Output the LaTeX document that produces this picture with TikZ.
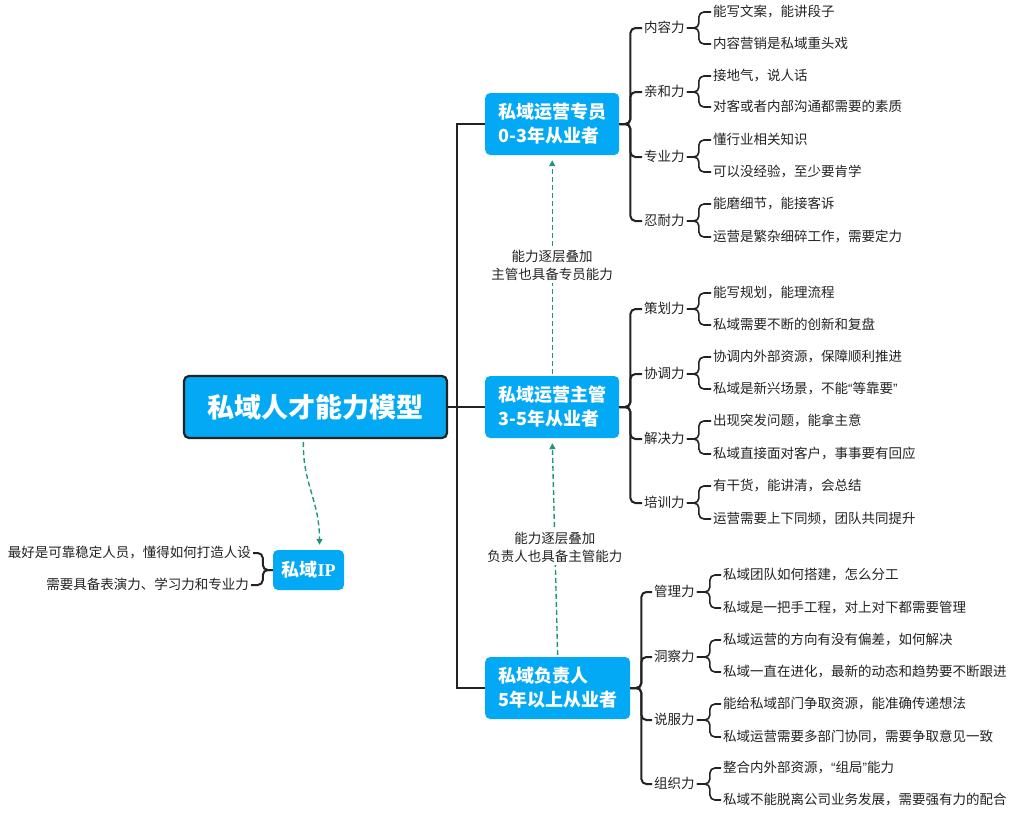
\documentclass[tikz,border=0pt]{standalone}
\usepackage{fontspec}
\setmainfont{Noto Sans CJK SC}
\newfontfamily\ipfont{Liberation Serif}
\newfontfamily\qtfont{Liberation Sans}
\newcommand{\myqopen}{{\qtfont “}}
\newcommand{\myqclose}{{\qtfont ”}}
\usetikzlibrary{arrows.meta}
\definecolor{boxblue}{RGB}{3,169,244}
\definecolor{linkteal}{RGB}{30,150,125}
\definecolor{ink}{RGB}{34,34,34}
\tikzset{
 rootbox/.style={draw=ink, line width=2.2pt, fill=boxblue, rounded corners=5pt, text=white, font=\fontsize{27}{32}\selectfont\bfseries, minimum width=263pt, minimum height=62pt, inner sep=0pt},
 levbox/.style={fill=boxblue, rounded corners=5pt, text=white, font=\fontsize{18}{24}\selectfont\bfseries, align=left, minimum height=62pt, inner xsep=13pt, inner ysep=0pt, anchor=west},
 ipbox/.style={fill=boxblue, rounded corners=5pt, text=white, font=\fontsize{18}{22}\selectfont\bfseries, minimum width=71pt, minimum height=40pt, inner sep=0pt},
 skill/.style={font=\fontsize{13.5}{16}\selectfont, text=ink, inner xsep=2pt, inner ysep=0pt, text height=11pt, text depth=2.5pt, anchor=west},
 leaf/.style={skill},
 leafl/.style={skill, anchor=east},
 trunk/.style={draw=ink, line width=2pt},
 bracket/.style={draw=ink, line width=2pt, rounded corners=5pt},
 subbr/.style={draw=ink, line width=1.6pt, rounded corners=5pt},
 lift/.style={draw=linkteal, line width=1.4pt, dash pattern=on 5pt off 3pt, -{Triangle[length=6pt,width=6pt]}},
 liftlabel/.style={fill=white, font=\fontsize{13.5}{18}\selectfont, align=center, text=ink, inner sep=2pt}
}
\begin{document}
\begin{tikzpicture}[x=1pt,y=-1pt]
\useasboundingbox (0,0) rectangle (1018,812);
% main nodes
\node[rootbox] (root) at (315.5,407) {私域人才能力模型};
\node[levbox] (b1) at (485,124) {私域运营专员\\0-3年从业者};
\node[levbox] (b2) at (485,407) {私域运营主管\\3-5年从业者};
\node[levbox] (b3) at (485,688) {私域负责人\\5年以上从业者};
\node[ipbox] (ip) at (308.5,570) {私域{\ipfont\bfseries IP}};
% trunk
\draw[trunk] (root.east) -- (b2.west);
\draw[trunk] (root.east) -- ++(9,0) |- (b1.west);
\draw[trunk] (root.east) -- ++(9,0) |- (b3.west);
% group 1
\node[skill] (s11) at (642,28) {内容力};
\node[skill] (s12) at (642,92) {亲和力};
\node[skill] (s13) at (642,157) {专业力};
\node[skill] (s14) at (642,221) {忍耐力};
\node[leaf] (l111) at (711,12) {能写文案，能讲段子};
\node[leaf] (l112) at (711,44) {内容营销是私域重头戏};
\node[leaf] (l121) at (711,76) {接地气，说人话};
\node[leaf] (l122) at (711,107) {对客或者内部沟通都需要的素质};
\node[leaf] (l131) at (711,140) {懂行业相关知识};
\node[leaf] (l132) at (711,172) {可以没经验，至少要肯学};
\node[leaf] (l141) at (711,204) {能磨细节，能接客诉};
\node[leaf] (l142) at (711,237) {运营是繁杂细碎工作，需要定力};
\foreach \s in {s11,s12,s13,s14} \draw[bracket] (b1.east) -- ++(11,0) |- (\s.west);
\foreach \s/\a/\b in {s11/l111/l112,s12/l121/l122,s13/l131/l132,s14/l141/l142}{
  \draw[subbr] (\s.east) -- ++(12,0) |- (\a.west);
  \draw[subbr] (\s.east) -- ++(12,0) |- (\b.west);
}
% group 2
\node[skill] (s21) at (642,309) {策划力};
\node[skill] (s22) at (642,374) {协调力};
\node[skill] (s23) at (642,439) {解决力};
\node[skill] (s24) at (642,503) {培训力};
\node[leaf] (l211) at (711,293) {能写规划，能理流程};
\node[leaf] (l212) at (711,325) {私域需要不断的创新和复盘};
\node[leaf] (l221) at (711,357) {协调内外部资源，保障顺利推进};
\node[leaf] (l222) at (711,389) {私域是新兴场景，不能\myqopen 等靠要\myqclose};
\node[leaf] (l231) at (711,421) {出现突发问题，能拿主意};
\node[leaf] (l232) at (711,454) {私域直接面对客户，事事要有回应};
\node[leaf] (l241) at (711,486) {有干货，能讲清，会总结};
\node[leaf] (l242) at (711,519) {运营需要上下同频，团队共同提升};
\foreach \s in {s21,s22,s23,s24} \draw[bracket] (b2.east) -- ++(11,0) |- (\s.west);
\foreach \s/\a/\b in {s21/l211/l212,s22/l221/l222,s23/l231/l232,s24/l241/l242}{
  \draw[subbr] (\s.east) -- ++(12,0) |- (\a.west);
  \draw[subbr] (\s.east) -- ++(12,0) |- (\b.west);
}
% group 3
\node[skill] (s31) at (652,592) {管理力};
\node[skill] (s32) at (652,657) {洞察力};
\node[skill] (s33) at (652,720) {说服力};
\node[skill] (s34) at (652,784) {组织力};
\node[leaf] (l311) at (721,575) {私域团队如何搭建，怎么分工};
\node[leaf] (l312) at (721,608) {私域是一把手工程，对上对下都需要管理};
\node[leaf] (l321) at (721,640) {私域运营的方向有没有偏差，如何解决};
\node[leaf] (l322) at (721,672) {私域一直在进化，最新的动态和趋势要不断跟进};
\node[leaf] (l331) at (721,704) {能给私域部门争取资源，能准确传递想法};
\node[leaf] (l332) at (721,737) {私域运营需要多部门协同，需要争取意见一致};
\node[leaf] (l341) at (721,768) {整合内外部资源，\myqopen 组局\myqclose 能力};
\node[leaf] (l342) at (721,800) {私域不能脱离公司业务发展，需要强有力的配合};
\foreach \s in {s31,s32,s33,s34} \draw[bracket] (b3.east) -- ++(11,0) |- (\s.west);
\foreach \s/\a/\b in {s31/l311/l312,s32/l321/l322,s33/l331/l332,s34/l341/l342}{
  \draw[subbr] (\s.east) -- ++(13,0) |- (\a.west);
  \draw[subbr] (\s.east) -- ++(13,0) |- (\b.west);
}
% IP group
\node[leafl] (ip1) at (253,553) {最好是可靠稳定人员，懂得如何打造人设};
\node[leafl] (ip2) at (251,585) {需要具备表演力、学习力和专业力};
\draw[bracket] (ip.west) -- ++(-10,0) |- (ip1.east);
\draw[bracket] (ip.west) -- ++(-10,0) |- (ip2.east);
% dashed links
\draw[lift, shorten <=2pt, shorten >=5pt] (b2.north) -- node[liftlabel] {能力逐层叠加\\主管也具备专员能力} (b1.south);
\draw[lift, shorten <=2pt, shorten >=5pt] (b3.north) -- node[liftlabel] {能力逐层叠加\\负责人也具备主管能力} (b2.south);
\draw[lift, shorten <=3pt, shorten >=5pt] ([xshift=-12pt]root.south) .. controls +(-1,45) and +(0,-50) .. ([xshift=11pt]ip.north);
\end{tikzpicture}
\end{document}
